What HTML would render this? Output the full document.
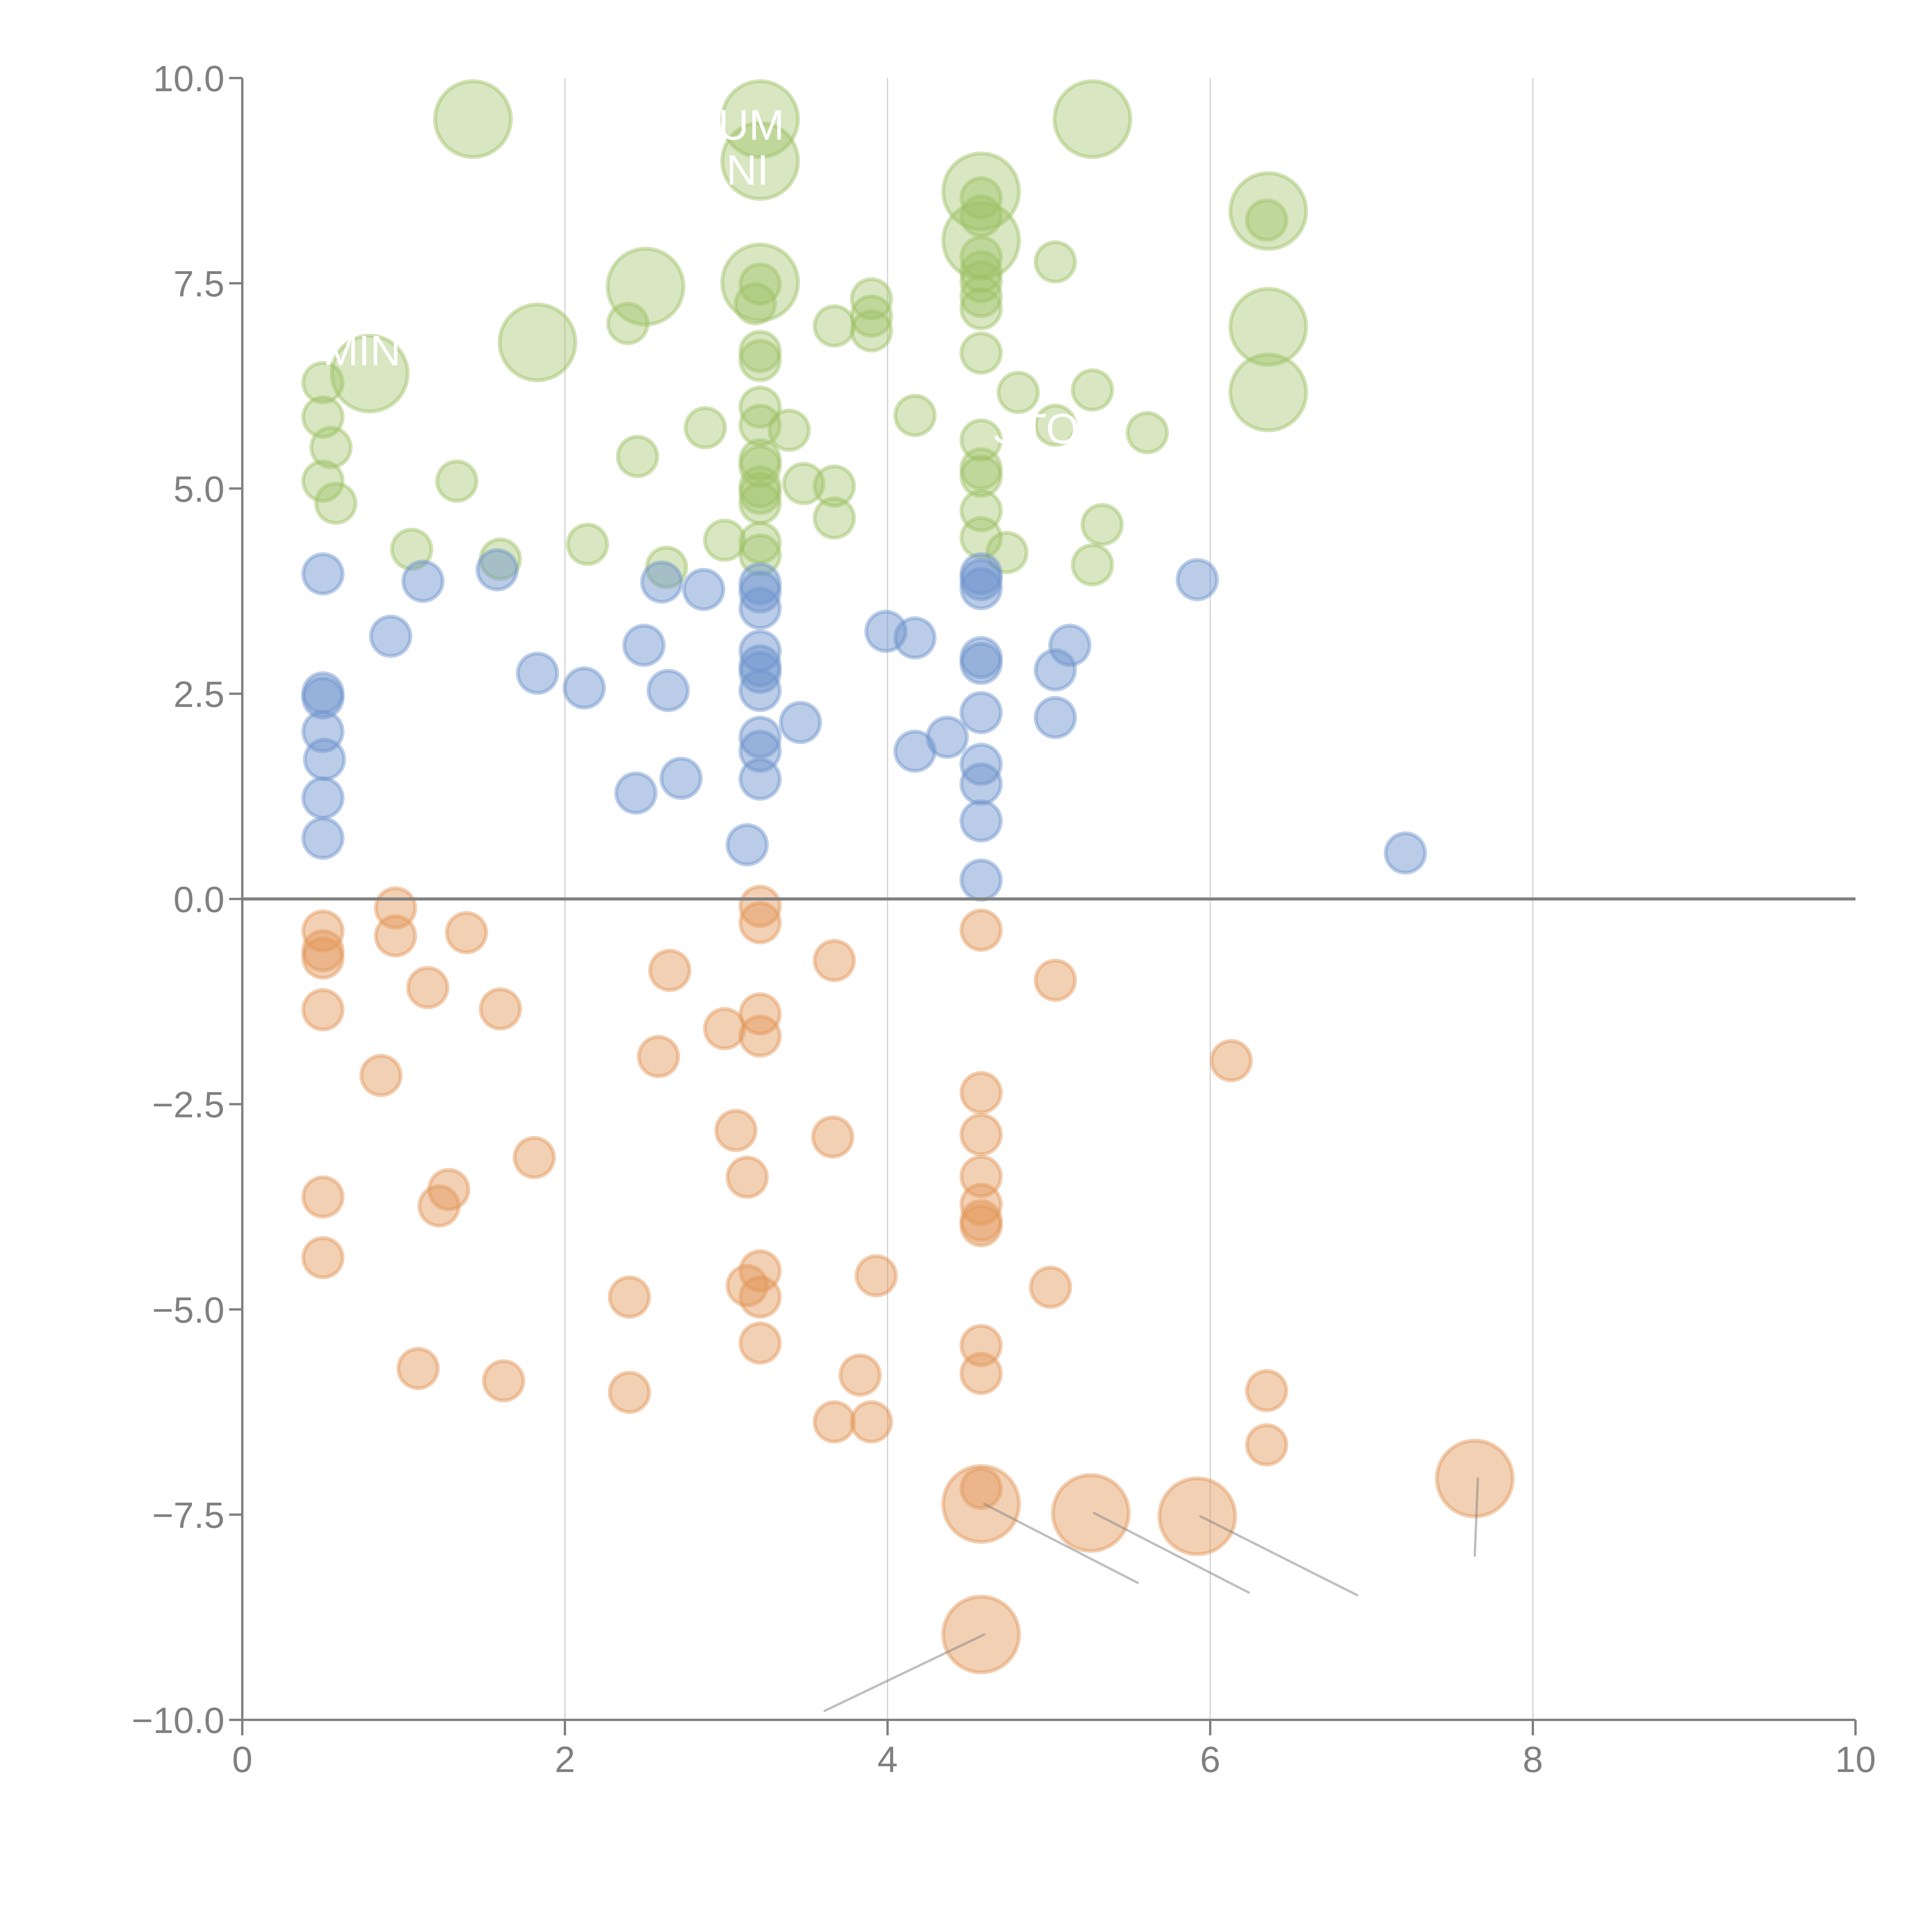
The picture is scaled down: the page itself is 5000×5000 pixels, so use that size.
<!DOCTYPE html>
<html><head><meta charset="utf-8"><style>
html,body{margin:0;padding:0;background:#fff;}
svg{display:block;font-family:"Liberation Sans",Arial,sans-serif;}
</style></head><body>
<svg id="chart" width="5000" height="5000" viewBox="0 0 5000 5000" xmlns="http://www.w3.org/2000/svg">
<g id="grid"></g>
<g id="marks"></g>
<g id="annos"></g>
<g id="axes"></g>
</svg>
<script>
const xTicks = [0,2,4,6,8,10];
const yTicks = [-10,-7.5,-5,-2.5,0,2.5,5,7.5,10];
const yTickLabels = ["\u221210.0","\u22127.5","\u22125.0","\u22122.5","0.0","2.5","5.0","7.5","10.0"];

const greenX = [0.50,0.50,0.55,0.50,0.58,1.33,1.05,1.60,2.14,2.39,2.45,2.63,2.87,2.99,3.21,3.21,3.21,3.21,3.21,3.21,3.21,3.21,3.21,3.21,3.21,3.21,3.18,3.39,3.48,3.67,3.67,3.67,3.90,3.90,3.90,4.17,4.58,4.58,4.58,4.58,4.58,4.58,4.58,4.58,4.58,4.58,4.58,4.58,4.58,4.74,4.81,5.04,5.04,5.27,5.27,5.33,5.61,6.35,
 1.43,3.21,3.21,5.27,4.58,4.58,3.21,2.50,1.83,0.79,6.36,6.36,6.36];
const greenY = [6.29,5.87,5.50,5.09,4.82,5.09,4.26,4.14,4.32,7.01,5.39,4.04,5.74,4.37,6.67,6.56,5.99,5.77,5.35,5.27,5.02,4.94,4.82,4.34,4.19,7.49,7.25,5.71,5.06,5.03,4.64,6.98,7.31,7.10,6.92,5.89,8.54,8.32,7.82,7.64,7.52,7.34,7.19,6.65,5.59,5.24,5.15,4.73,4.40,4.22,6.17,7.76,5.77,6.20,4.07,4.56,5.68,8.27,
 9.50,9.50,8.99,9.50,8.62,8.02,7.51,7.46,6.78,6.40,8.38,6.97,6.17];
const greenSize = [1,1,1,1,1,1,1,1,1,1,1,1,1,1,1,1,1,1,1,1,1,1,1,1,1,1,1,1,1,1,1,1,1,1,1,1,1,1,1,1,1,1,1,1,1,1,1,1,1,1,1,1,1,1,1,1,1,1,
 3.7,3.7,3.7,3.7,3.7,3.7,3.7,3.7,3.7,3.7,3.7,3.7,3.7];

const blueX = [0.50,1.12,1.58,0.92,0.50,0.50,0.50,0.51,0.50,0.50,1.83,2.12,2.49,2.60,2.86,2.64,2.44,2.72,3.13,3.21,3.21,3.21,3.21,3.21,3.21,3.21,3.21,3.21,3.21,3.46,3.99,4.17,4.17,4.37,4.58,4.58,4.58,4.58,4.58,4.58,4.58,4.58,4.58,4.58,5.04,5.04,5.13,5.92,7.21];
const blueY = [3.96,3.87,4.01,3.20,2.51,2.45,2.04,1.70,1.23,0.74,2.75,2.57,3.09,3.86,3.77,2.54,1.29,1.47,0.66,3.84,3.74,3.54,3.02,2.84,2.76,2.54,1.97,1.80,1.46,2.15,3.26,3.18,1.80,1.97,3.96,3.89,3.78,2.94,2.87,2.27,1.64,1.40,0.95,0.23,2.79,2.21,3.09,3.89,0.56];
const blueSize = blueX.map(() => 1);

const orangeX = [0.95,0.50,0.50,0.50,0.95,1.39,1.15,0.50,1.60,0.86,2.65,2.58,2.99,3.21,3.21,3.21,3.21,3.67,4.58,5.04,6.13,4.58,4.58,4.58,4.58,4.58,4.58,3.66,3.06,3.13,1.81,1.28,1.22,0.50,0.50,2.40,3.21,3.13,3.21,3.93,5.01,1.09,1.62,2.40,3.21,3.83,3.67,3.90,4.58,4.58,6.35,6.35,4.58,
 4.58,5.26,5.92,7.64,4.58];
const orangeY = [-0.11,-0.39,-0.63,-0.72,-0.45,-0.41,-1.08,-1.35,-1.34,-2.15,-0.87,-1.92,-1.58,-0.09,-0.29,-1.40,-1.67,-0.75,-0.38,-0.99,-1.97,-2.36,-2.87,-3.38,-3.72,-3.92,-3.98,-2.90,-2.82,-3.39,-3.15,-3.54,-3.74,-3.63,-4.37,-4.85,-4.53,-4.71,-4.85,-4.59,-4.73,-5.72,-5.87,-6.01,-5.41,-5.80,-6.37,-6.37,-5.44,-5.78,-5.99,-6.65,-7.18,
 -7.37,-7.48,-7.52,-7.06,-8.96];
const orangeSize = [1,1,1,1,1,1,1,1,1,1,1,1,1,1,1,1,1,1,1,1,1,1,1,1,1,1,1,1,1,1,1,1,1,1,1,1,1,1,1,1,1,1,1,1,1,1,1,1,1,1,1,1,1,
 3.7,3.7,3.7,3.7,3.7];

const annoFromX = [4.58,5.26,5.92,7.64,4.58];
const annoFromY = [-7.37,-7.48,-7.52,-7.06,-8.96];
const annoToX = [5.55,6.24,6.91,7.64,3.61];
const annoToY = [-8.33,-8.45,-8.48,-8.00,-9.89];

const X0=627, X1=4802, Y0=4451, Y1=202;
const sx = v => X0 + (v-0)/(10-0)*(X1-X0);
const sy = v => Y0 - (v+10)/(20)*(Y0-Y1);
const sr = s => 51*Math.sqrt(s);
const NS="http://www.w3.org/2000/svg";
function mk(tag, parent, attrs){const e=document.createElementNS(NS,tag);for(const k in attrs)e.setAttribute(k,attrs[k]);parent.appendChild(e);return e;}

const grid=document.getElementById('grid');
xTicks.forEach(t=>{ if(t===0||t===10) return;
  const l=mk('line',grid,{x1:sx(t),x2:sx(t),y1:Y1,y2:Y0,stroke:'#d0d0d0','stroke-width':3});
  
  
});

const marks=document.getElementById('marks');
function series(xs,ys,ss,color,alpha,name){
  xs.forEach((x,i)=>{
    const c=mk('circle',marks,{cx:sx(x),cy:sy(ys[i]),r:sr(ss[i]),fill:color,'fill-opacity':alpha,stroke:color,'stroke-opacity':0.45,'stroke-width':10});
    
    
  });
}
series(greenX,greenY,greenSize,'rgb(157,192,100)',0.4,'green');
series(blueX,blueY,blueSize,'rgb(110,148,205)',0.48,'blue');
series(orangeX,orangeY,orangeSize,'rgb(226,150,88)',0.45,'orange');

const annos=document.getElementById('annos');
annoFromX.forEach((x,i)=>{
  const l=mk('line',annos,{x1:sx(x)+8,y1:sy(annoFromY[i]),x2:sx(annoToX[i]),y2:sy(annoToY[i]),stroke:'rgba(128,128,128,0.5)','stroke-width':6,'stroke-linecap':'round'});
  
  
});
[["MIN",0.5,6.5],["UM",2.95,9.25],["NI",3.0,8.7],["STO",4.65,5.55]].forEach(a=>{
  const t=mk('text',annos,{x:sx(a[1]),y:sy(a[2]),fill:'#fff','font-size':110});
  t.textContent=a[0];
  
  
});

const axes=document.getElementById('axes');
const zl=mk('line',axes,{x1:X0,x2:X1,y1:sy(0),y2:sy(0),stroke:'#808080','stroke-width':8});


const ya=mk('line',axes,{x1:X0,x2:X0,y1:Y1,y2:Y0,stroke:'#808080','stroke-width':6});


const xa=mk('line',axes,{x1:X0,x2:X1,y1:Y0,y2:Y0,stroke:'#808080','stroke-width':6});


yTicks.forEach((t,i)=>{
  const tk=mk('line',axes,{x1:X0-34,x2:X0,y1:sy(t),y2:sy(t),stroke:'#808080','stroke-width':6});
  
  
  const tx=mk('text',axes,{x:X0-46,y:sy(t)+34,'text-anchor':'end',fill:'#808080','font-size':95});
  tx.textContent=yTickLabels[i];
  
  
});
xTicks.forEach(t=>{
  const tk=mk('line',axes,{x1:sx(t),x2:sx(t),y1:Y0,y2:Y0+40,stroke:'#808080','stroke-width':6});
  
  
  const tx=mk('text',axes,{x:sx(t),y:Y0+135,'text-anchor':'middle',fill:'#808080','font-size':95});
  tx.textContent=String(t);
  
  
});
</script>
</body></html>
